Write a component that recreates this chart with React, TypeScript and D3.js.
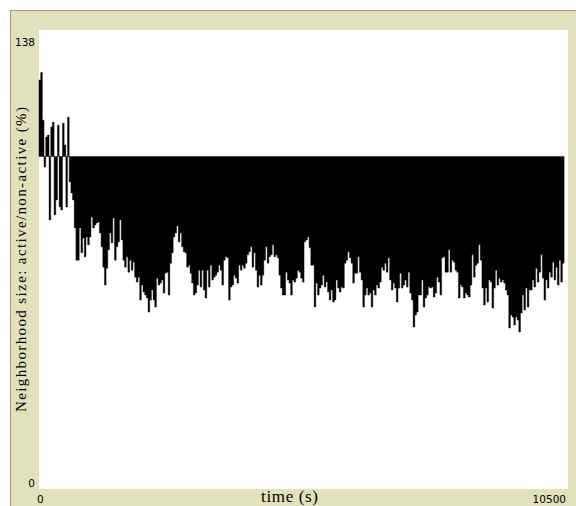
import React from 'react';
import * as d3 from 'd3';

const X_DOMAIN: [number, number] = [0, 10500];
const Y_DOMAIN: [number, number] = [0, 138];
const BASELINE = 100;
const TIME_STEP = 33.3;
const xTickLabels = ['0', '10500'];
const yTickLabels = ['0', '138'];
const xTitle = 'time (s)';
const yTitle = 'Neighborhood size: active/non-active (%)';

// Neighborhood size (%) sampled every TIME_STEP seconds
const neighborhoodPct: number[] = [
  123.0, 125.2, 110.9, 96.8, 105.8, 106.4, 80.9, 108.8, 110.3, 82.4, 86.9, 109.4, 84.8, 83.9, 110.0, 103.4,
  84.8, 111.8, 92.3, 89.0, 86.9, 78.5, 68.8, 68.8, 78.5, 71.0, 75.5, 69.8, 75.8, 73.4, 75.8, 81.8,
  78.5, 79.4, 80.0, 80.3, 77.0, 72.8, 66.7, 61.3, 66.4, 71.9, 77.0, 74.0, 81.5, 68.8, 72.8, 74.3,
  80.9, 74.9, 68.8, 66.7,
  69.8, 65.2, 68.8, 65.8, 68.2, 63.7, 62.2, 63.7, 56.8, 61.3, 59.2, 58.3, 57.4, 53.2, 56.8, 59.8,
  56.8, 54.7, 63.4, 61.3, 61.9, 62.8, 58.9, 64.9, 65.2, 58.3, 67.9, 71.0, 75.8, 77.0, 79.1, 74.3,
  77.0, 72.8, 71.3, 71.0, 66.7, 67.3, 64.9, 61.9, 58.3, 58.9, 61.3, 65.8, 60.7, 65.8, 59.8, 57.4,
  65.8, 60.7, 67.3, 62.8, 63.7, 64.3,
  65.2, 67.3, 65.8, 61.3, 68.8, 69.8, 69.5, 56.8, 60.7, 61.3, 64.3, 63.4, 61.9, 67.3, 65.8, 67.3,
  66.4, 67.9, 70.4, 71.3, 72.8, 66.7, 71.0, 65.8, 60.7, 64.3, 61.3, 64.3, 68.8, 72.8, 67.9, 69.8,
  70.4, 73.4, 69.8, 70.4, 69.5, 64.3, 60.4, 58.3, 58.3, 65.2, 62.8, 61.9, 58.3, 62.8, 62.2, 63.4,
  65.8, 65.2, 63.4, 62.2,
  74.3, 74.9, 75.8, 72.5, 67.3, 67.3, 54.7, 61.9, 58.3, 60.4, 61.3, 64.3, 60.7, 62.2, 59.2, 56.8,
  59.8, 56.2, 56.8, 62.8, 60.4, 59.2, 60.7, 60.4, 67.9, 68.8, 71.3, 69.5, 67.9, 61.9, 64.9, 64.9,
  69.8, 65.2, 62.8, 54.7, 58.3, 60.4, 58.3, 58.9, 54.7, 59.8, 58.3, 61.3, 60.4, 62.2, 66.7, 65.8,
  67.9, 65.2, 69.5, 62.8,
  59.8, 61.9, 60.4, 56.2, 60.4, 64.9, 60.4, 61.3, 62.8, 60.7, 65.2, 58.9, 56.8, 48.7, 52.3, 53.2,
  58.3, 58.3, 62.8, 54.7, 57.4, 58.3, 60.7, 60.4, 60.7, 57.7, 58.9, 63.7, 62.2, 58.3, 69.5, 69.8,
  65.2, 65.2, 71.9, 65.2, 68.8, 68.2, 65.8, 65.2, 57.4, 61.3, 60.7, 57.4, 58.9, 58.3, 57.7, 61.3,
  70.4, 63.7, 67.3, 67.9,
  73.4, 68.8, 60.4, 55.3, 60.4, 56.2, 62.8, 62.2, 54.4, 60.4, 65.8, 61.3, 63.4, 62.2, 62.8, 61.9,
  59.8, 58.3, 48.4, 52.3, 51.7, 49.3, 51.7, 50.8, 47.2, 52.9, 58.3, 53.8, 60.4, 54.7, 59.8, 59.8,
  62.8, 60.7, 66.4, 62.2, 65.2, 70.4, 63.4, 56.8, 62.8, 60.4, 65.2, 63.7, 68.2, 62.8, 66.7, 61.3,
  68.8, 62.2, 67.9,
];

export default function App() {
  const W = 576;
  const H = 506;
  const left = 39, right = 568, top = 30, bottom = 489;
  const x = d3.scaleLinear().domain(X_DOMAIN).range([left, right]);
  const y = d3.scaleLinear().domain(Y_DOMAIN).range([bottom, top]);

  const pts: [number, number][] = neighborhoodPct.map((v, i) => [i * TIME_STEP, v]);
  pts.push([neighborhoodPct.length * TIME_STEP, neighborhoodPct[neighborhoodPct.length - 1]]);

  const area = d3
    .area<[number, number]>()
    .curve(d3.curveStepAfter)
    .x((d) => x(d[0]))
    .y0(() => y(BASELINE))
    .y1((d) => y(d[1]));

  const tickFont = '"DejaVu Sans", sans-serif';
  const titleFont = '"Liberation Serif", "Times New Roman", serif';

  return (
    <svg width={W} height={H} style={{ position: 'absolute', left: 0, top: 0, background: '#fff' }}>
      <rect x={10} y={10} width={W - 10} height={H - 10} fill="#e1e1bb" />
      <line x1={10.5} y1={10} x2={10.5} y2={H} stroke="#9a9a9a" strokeWidth={1} />
      <line x1={10} y1={10.5} x2={W} y2={10.5} stroke="#9a9a9a" strokeWidth={1} />
      <rect x={left} y={top} width={right - left} height={bottom - top} fill="#ffffff" />
      <path d={area(pts) || ''} fill="#000" stroke="#000" strokeWidth={0.4} />
      {/* y tick labels */}
      <text x={35} y={y(Y_DOMAIN[1]) + 16} textAnchor="end" fontFamily={tickFont} fontSize={10.5} fill="#000">
        {yTickLabels[1]}
      </text>
      <text x={35} y={y(Y_DOMAIN[0]) - 2} textAnchor="end" fontFamily={tickFont} fontSize={10.5} fill="#000">
        {yTickLabels[0]}
      </text>
      {/* x tick labels */}
      <text x={x(X_DOMAIN[0]) - 2} y={503} textAnchor="start" fontFamily={tickFont} fontSize={10.5} fill="#000">
        {xTickLabels[0]}
      </text>
      <text x={x(X_DOMAIN[1]) - 2} y={503} textAnchor="end" fontFamily={tickFont} fontSize={10.5} fill="#000">
        {xTickLabels[1]}
      </text>
      {/* titles */}
      <text x={289.5} y={502} textAnchor="middle" fontFamily={titleFont} fontSize={17} textLength={57} lengthAdjust="spacing" fill="#000">
        {xTitle}
      </text>
      <text
        transform={`translate(26, ${(top + bottom) / 2}) rotate(-90)`}
        textAnchor="middle"
        fontFamily={titleFont}
        fontSize={15}
        textLength={305}
        lengthAdjust="spacing"
        fill="#000"
      >
        {yTitle}
      </text>
    </svg>
  );
}
